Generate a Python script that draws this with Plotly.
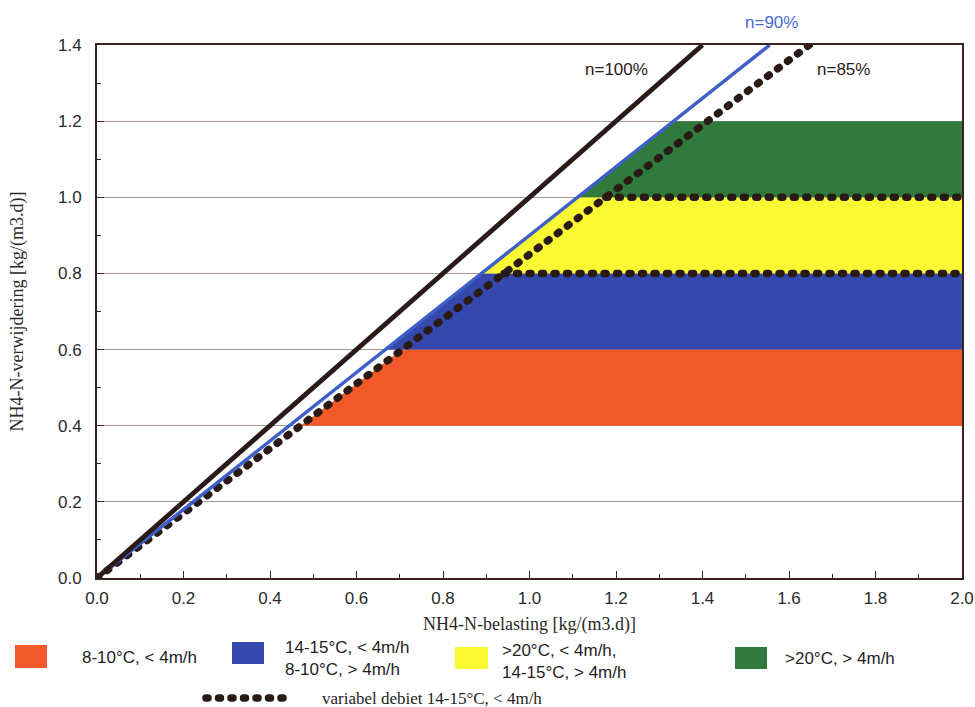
import plotly.graph_objects as go

# ---- data ----
band_low = [0.4, 0.6, 0.8, 1.0]
band_high = [0.6, 0.8, 1.0, 1.2]
band_eff = [0.85, 0.90, 0.90, 0.90]
band_colors = ["#f2592a", "#3448ae", "#fbf834", "#2f7a3c"]
band_labels = ["8-10°C, < 4m/h", "14-15°C, < 4m/h<br>8-10°C, > 4m/h",
               ">20°C, < 4m/h,<br>14-15°C, > 4m/h", ">20°C, > 4m/h"]

eff_lines = [1.00, 0.90]
eff_colors = ["#2a1a18", "#3f5fc8"]
eff_widths = [4.8, 3.5]
eff_labels = ["n=100%", "n=90%"]

dotted_eff = 0.85
dotted_levels = [0.8, 1.0]
dotted_label = "variabel debiet 14-15°C, < 4m/h"

x_max = 2.0
y_max = 1.4
x_ticks = [0.0, 0.2, 0.4, 0.6, 0.8, 1.0, 1.2, 1.4, 1.6, 1.8, 2.0]
y_ticks = [0.0, 0.2, 0.4, 0.6, 0.8, 1.0, 1.2, 1.4]

fig = go.Figure()

# filled bands
for lo, hi, e, c in zip(band_low, band_high, band_eff, band_colors):
    fig.add_trace(go.Scatter(
        x=[lo / e, x_max, x_max, hi / e, lo / e],
        y=[lo, lo, hi, hi, lo],
        fill="toself", fillcolor=c, mode="none", hoverinfo="skip",
        showlegend=False))

dot_style = dict(color="#2a1a16", width=7.5, dash="2px,10.5px")
# dotted n=85% line
fig.add_trace(go.Scatter(x=[0, y_max / dotted_eff], y=[0, y_max], mode="lines",
                         line=dot_style, showlegend=False))
for lv in dotted_levels:
    fig.add_trace(go.Scatter(x=[lv / dotted_eff, x_max], y=[lv, lv], mode="lines",
                             line=dot_style, showlegend=False))

# efficiency lines
for e, c, w in zip(reversed(eff_lines), reversed(eff_colors), reversed(eff_widths)):
    fig.add_trace(go.Scatter(x=[0, y_max / e], y=[0, y_max], mode="lines",
                             line=dict(color=c, width=w), showlegend=False))

axis_common = dict(showline=True, linecolor="#3a2222", linewidth=2, mirror=True,
                   ticks="inside", ticklen=7, tickcolor="#3a2222",
                   tickfont=dict(family="Liberation Sans, Arial", size=17, color="#2a2a2a"),
                   zeroline=False, automargin=False,
                   minor=dict(ticks="inside", ticklen=4, tickcolor="#3a2222", showgrid=False))

fig.update_xaxes(range=[0, x_max], tickvals=x_ticks,
                 ticktext=[f"{v:.1f}" for v in x_ticks], showgrid=False,
                 ticklabelstandoff=4,
                 title=dict(text="NH4-N-belasting [kg/(m3.d)]",
                            font=dict(family="Liberation Serif, Times New Roman", size=18, color="#2a2a2a"),
                            standoff=10),
                 **axis_common)
fig.update_xaxes(minor_dtick=0.1)
fig.update_yaxes(range=[0, y_max], tickvals=y_ticks,
                 ticktext=[f"{v:.1f}" for v in y_ticks], showgrid=True,
                 gridcolor="#a89898", gridwidth=1,
                 ticklabelstandoff=10,
                 title=dict(text="NH4-N-verwijdering [kg/(m3.d)]",
                            font=dict(family="Liberation Serif, Times New Roman", size=18, color="#2a2a2a"),
                            standoff=30),
                 **axis_common)
fig.update_yaxes(minor_dtick=0.1)

L, R, T, B = 97, 962, 45, 578
def px(xp):
    return (xp - L) / (R - L)
def py(yp):
    return (B - yp) / (B - T)

annotations = []
# line labels
lab_font = dict(family="Liberation Sans, Arial", size=17, color="#2a1a18")
annotations.append(dict(x=1.2, y=1.335, xref="x", yref="y", text=eff_labels[0], showarrow=False,
                        font=lab_font))
annotations.append(dict(x=1.56 / x_max, y=py(23), xref="paper", yref="paper", text=eff_labels[1],
                        showarrow=False, xanchor="center", yanchor="middle",
                        font=dict(family="Liberation Sans, Arial", size=17, color="#4a6ad0")))
annotations.append(dict(x=1.725, y=1.335, xref="x", yref="y", text="n=85%", showarrow=False,
                        font=lab_font))

# custom legend (pixel positions converted to paper coords)
shapes = []
sw = [(15, 645, 47, 668), (232, 642, 264, 664), (455, 647, 488, 669), (735, 647, 767, 669)]
txt = [(80, 657), (283, 658), (500, 661), (783, 658)]
for (x0, y0, x1, y1), c in zip(sw, band_colors):
    shapes.append(dict(type="rect", xref="paper", yref="paper", x0=px(x0), x1=px(x1),
                       y0=py(y1), y1=py(y0), fillcolor=c, line=dict(width=0)))
for (tx, ty), lab in zip(txt, band_labels):
    annotations.append(dict(x=px(tx), y=py(ty), xref="paper", yref="paper", text=lab,
                            showarrow=False, xanchor="left", yanchor="middle", align="left",
                            font=dict(family="Liberation Sans, Arial", size=17, color="#1e1e1e")))
# dotted legend entry
shapes.append(dict(type="line", xref="paper", yref="paper", x0=px(206), x1=px(290),
                   y0=py(698), y1=py(698), line=dot_style))
annotations.append(dict(x=px(320), y=py(698), xref="paper", yref="paper", text=dotted_label,
                        showarrow=False, xanchor="left", yanchor="middle",
                        font=dict(family="Liberation Serif, Times New Roman", size=17, color="#1e1e1e")))

fig.update_layout(width=975, height=707, margin=dict(l=L, r=975 - R, t=T, b=707 - B),
                  paper_bgcolor="white", plot_bgcolor="white",
                  annotations=annotations, shapes=shapes, showlegend=False)

post = """
document.body.style.margin='0';
document.body.style.padding='0';
function roundDots(){
  document.querySelectorAll('path').forEach(function(p){
    var d = p.style.strokeDasharray;
    if (d && d !== 'none' && d !== '') { p.style.strokeLinecap = 'round'; }
  });
}
roundDots();
setTimeout(roundDots, 50);
setTimeout(roundDots, 300);
var gdx = document.getElementById('{plot_id}');
if (gdx && gdx.on) { gdx.on('plotly_afterplot', roundDots); }
"""

fig.write_html("out.html", post_script=post, config={"displayModeBar": False})
